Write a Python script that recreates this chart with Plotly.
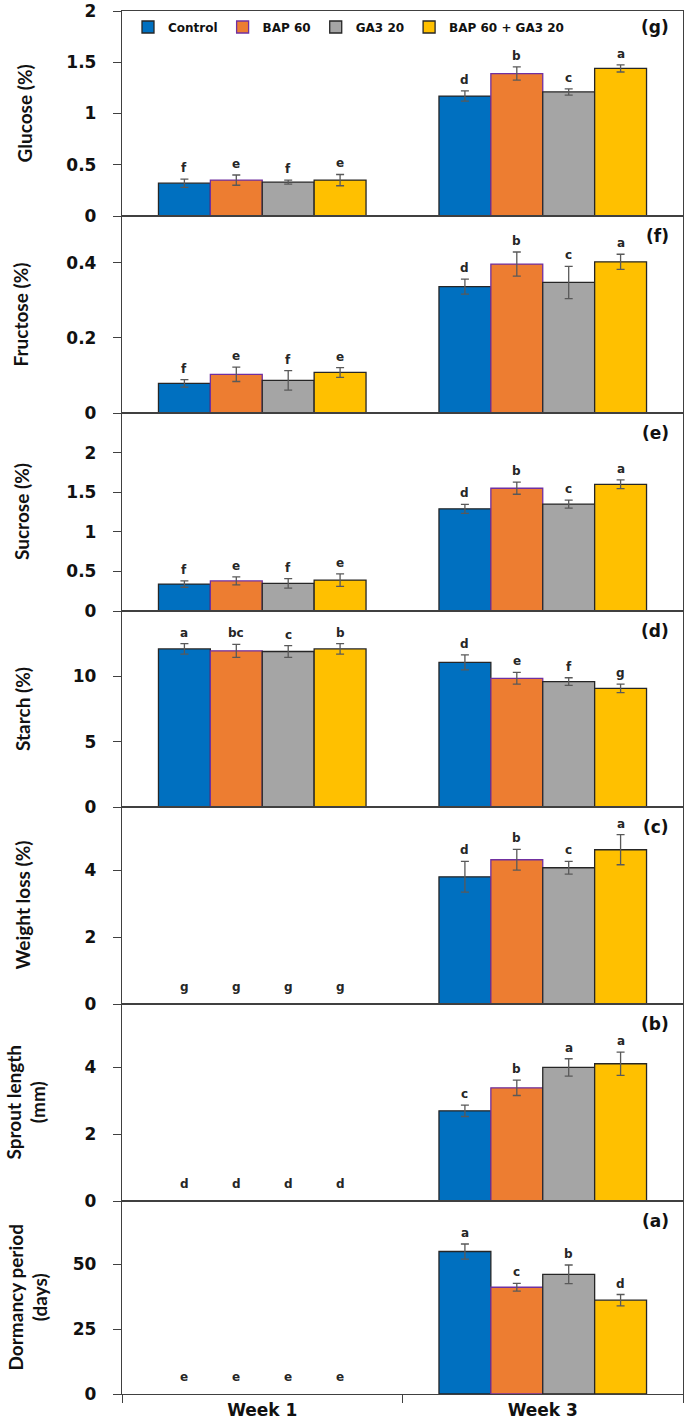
import plotly.graph_objects as go
from plotly.subplots import make_subplots

weeks = ["Week 1", "Week 3"]
treatments = ["Control", "BAP 60", "GA3 20", "BAP 60 + GA3 20"]
bar_colors = ["#0070C0", "#ED7D31", "#A5A5A5", "#FFC000"]
edge_colors = ["#262626", "#7030A0", "#262626", "#262626"]

# each list: one [Week 1, Week 3] pair per treatment (Control, BAP 60, GA3 20, BAP 60 + GA3 20)
glucose_mean = [[0.32, 1.17], [0.35, 1.39], [0.33, 1.21], [0.35, 1.44]]
glucose_err = [[0.04, 0.05], [0.05, 0.065], [0.02, 0.03], [0.055, 0.035]]
glucose_letters = [["f", "d"], ["e", "b"], ["f", "c"], ["e", "a"]]

fructose_mean = [[0.079, 0.337], [0.103, 0.397], [0.087, 0.348], [0.108, 0.403]]
fructose_err = [[0.010, 0.020], [0.019, 0.032], [0.026, 0.043], [0.013, 0.020]]
fructose_letters = [["f", "d"], ["e", "b"], ["f", "c"], ["e", "a"]]

sucrose_mean = [[0.34, 1.29], [0.38, 1.55], [0.35, 1.35], [0.39, 1.60]]
sucrose_err = [[0.04, 0.057], [0.05, 0.076], [0.06, 0.05], [0.08, 0.055]]
sucrose_letters = [["f", "d"], ["e", "b"], ["f", "c"], ["e", "a"]]

starch_mean = [[12.1, 11.07], [11.95, 9.85], [11.9, 9.6], [12.1, 9.08]]
starch_err = [[0.4, 0.57], [0.5, 0.45], [0.45, 0.29], [0.4, 0.33]]
starch_letters = [["a", "d"], ["bc", "e"], ["c", "f"], ["b", "g"]]

weight_mean = [[0, 3.81], [0, 4.32], [0, 4.08], [0, 4.62]]
weight_err = [[0, 0.46], [0, 0.31], [0, 0.19], [0, 0.45]]
weight_letters = [["g", "d"], ["g", "b"], ["g", "c"], ["g", "a"]]

sprout_mean = [[0, 2.70], [0, 3.39], [0, 4.00], [0, 4.11]]
sprout_err = [[0, 0.17], [0, 0.23], [0, 0.26], [0, 0.35]]
sprout_letters = [["d", "c"], ["d", "b"], ["d", "a"], ["d", "a"]]

dormancy_mean = [[0, 55.0], [0, 41.2], [0, 46.2], [0, 36.2]]
dormancy_err = [[0, 2.9], [0, 1.5], [0, 3.6], [0, 2.2]]
dormancy_letters = [["e", "a"], ["e", "c"], ["e", "b"], ["e", "d"]]

y_titles = ["Glucose (%)", "Fructose (%)", "Sucrose (%)", "Starch (%)",
            "Weight loss (%)", "Sprout length<br>(mm)", "Dormancy period<br>(days)"]
panel_tags = ["(g)", "(f)", "(e)", "(d)", "(c)", "(b)", "(a)"]
y_ranges = [[0, 2], [0, 0.525], [0, 2.5], [0, 15], [0, 5.9], [0, 5.9], [0, 74.5]]
y_ticks = [[0, 0.5, 1, 1.5, 2], [0, 0.2, 0.4], [0, 0.5, 1, 1.5, 2], [0, 5, 10],
           [0, 2, 4], [0, 2, 4], [0, 25, 50]]

panels = [
    (glucose_mean, glucose_err, glucose_letters),
    (fructose_mean, fructose_err, fructose_letters),
    (sucrose_mean, sucrose_err, sucrose_letters),
    (starch_mean, starch_err, starch_letters),
    (weight_mean, weight_err, weight_letters),
    (sprout_mean, sprout_err, sprout_letters),
    (dormancy_mean, dormancy_err, dormancy_letters),
]

# layout geometry (pixels)
W, H = 685, 1423
left, right, top, bottom = 122, 683, 11, 1394
panel_edges = [11, 216, 413, 611, 807, 1004, 1201, 1394]
title_x = [24, 20, 21, 22, 22, 25, 27]
plot_h = bottom - top
plot_w = right - left

def ypaper(py):
    return (bottom - py) / plot_h

def xpaper(px):
    return (px - left) / plot_w

bargap = 0.26
BOLD = "DejaVu Sans"
AX = "#404040"

fig = make_subplots(rows=7, cols=1, vertical_spacing=0)
annotations = []
for r, (mean, err, letters) in enumerate(panels, start=1):
    for t in range(4):
        for w in range(2):
            has_bar = mean[t][w] > 0
            fig.add_trace(go.Bar(
                x=[weeks[w]], y=[mean[t][w]], name=treatments[t],
                legendgroup=treatments[t], offsetgroup=str(t),
                showlegend=(r == 1 and w == 0),
                marker=dict(color=bar_colors[t],
                            line=dict(color=edge_colors[t], width=1.3 if has_bar else 0)),
                error_y=dict(type="data", array=[err[t][w]], visible=has_bar,
                             color="#595959", thickness=1.3, width=4),
            ), row=r, col=1)
            bw = (1 - bargap) / 4
            xpos = w - (1 - bargap) / 2 + (t + 0.5) * bw
            annotations.append(dict(
                x=xpos, y=mean[t][w] + err[t][w],
                xref="x" if r == 1 else f"x{r}", yref="y" if r == 1 else f"y{r}",
                text=letters[t][w], showarrow=False, yanchor="bottom",
                yshift=2 if has_bar else 8,
                font=dict(family=BOLD, size=12, color="#262626", weight="bold"),
            ))
    d0, d1 = ypaper(panel_edges[r]), ypaper(panel_edges[r - 1])
    yk = "yaxis" if r == 1 else f"yaxis{r}"
    xk = "xaxis" if r == 1 else f"xaxis{r}"
    ticks = y_ticks[r - 1]
    fig.layout[yk].update(
        domain=[d0, d1], range=y_ranges[r - 1], tickvals=ticks,
        ticktext=[f"{v:g}" for v in ticks],
        ticks="outside", ticklen=8, tickwidth=1.3, tickcolor=AX,
        showline=True, linecolor=AX, linewidth=1.3, mirror=True,
        showgrid=False, zeroline=False, automargin=False, ticklabelstandoff=13,
        ticklabeloverflow="allow",
        tickfont=dict(family=BOLD, size=17, color="#111111", weight="bold"),
    )
    fig.layout[xk].update(
        type="category", range=[-0.5, 1.5], categoryorder="array", categoryarray=weeks,
        showline=True, linecolor=AX, linewidth=1.3, mirror=True,
        showgrid=False, zeroline=False, automargin=False,
        showticklabels=(r == 7), ticks="outside" if r == 7 else "",
        tickson="boundaries", ticklen=8, tickwidth=1.3, tickcolor=AX,
        tickfont=dict(family=BOLD, size=17, color="#111111", weight="bold"),
    )
    annotations.append(dict(
        x=xpaper(title_x[r - 1]), y=(d0 + d1) / 2, xref="paper", yref="paper",
        text=y_titles[r - 1], showarrow=False, textangle=-90,
        xanchor="center", yanchor="middle", align="center",
        font=dict(family="Lato", size=19, color="#111111", weight="bold"),
    ))
    annotations.append(dict(
        x=xpaper(671), y=d1, xref="paper", yref="paper", text=panel_tags[r - 1],
        showarrow=False, xanchor="right", yanchor="middle",
        yshift=-16 if r == 1 else -20,
        font=dict(family=BOLD, size=17, color="#111111", weight="bold"),
    ))

fig.update_layout(
    template="none",
    width=W, height=H,
    margin=dict(l=left, r=W - right, t=top, b=H - bottom, pad=0),
    paper_bgcolor="white", plot_bgcolor="white",
    barmode="group", bargap=bargap, bargroupgap=0,
    showlegend=True,
    legend=dict(orientation="h", x=xpaper(128), y=ypaper(27), xanchor="left",
                yanchor="middle", bgcolor="rgba(0,0,0,0)",
                font=dict(family=BOLD, size=12, color="#111111", weight="bold"),
                itemwidth=30, tracegroupgap=0),
    annotations=annotations,
)

fig.write_html("out.html", config={"displayModeBar": False},
               post_script="document.body.style.margin='0';document.body.style.overflow='hidden';")
